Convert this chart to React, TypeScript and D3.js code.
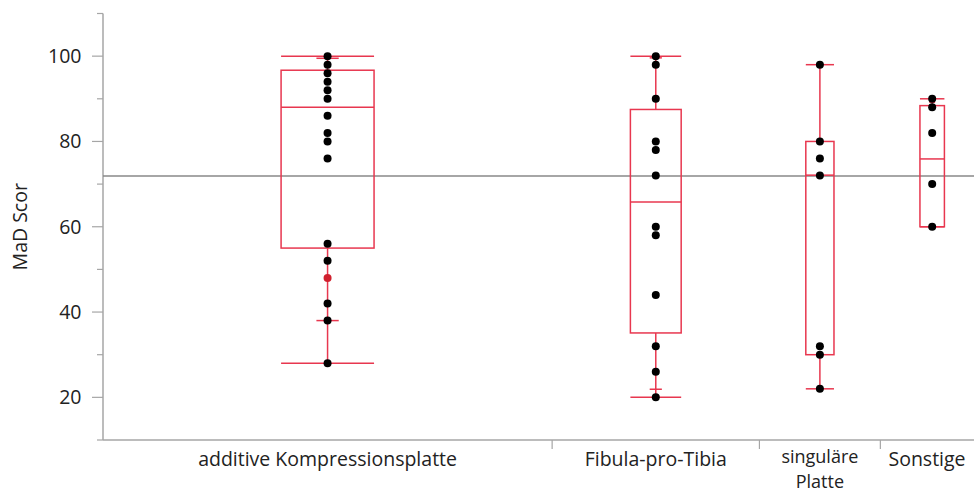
import React from "react";
import * as d3 from "d3";

// ---- data ----
const categories = ["additive Kompressionsplatte", "Fibula-pro-Tibia", "singuläre Platte", "Sonstige"];
const categoryLines = [["additive Kompressionsplatte"], ["Fibula-pro-Tibia"], ["singuläre", "Platte"], ["Sonstige"]];
const groupCounts = [26, 12, 7, 6];
const points1 = [100, 98, 96, 94, 92, 90, 86, 82, 80, 76, 56, 52, 48, 42, 38, 28];
const points2 = [100, 98, 90, 80, 78, 72, 60, 58, 44, 32, 26, 20];
const points3 = [98, 80, 76, 72, 32, 30, 22];
const points4 = [90, 88, 82, 70, 60];
const groupPoints = [points1, points2, points3, points4];
const highlighted = [{ group: 0, value: 48 }];
const q1 = [55, 35.1, 30, 60];
const median = [88, 65.8, 72.1, 75.9];
const q3 = [96.7, 87.5, 80, 88.4];
const whiskerLo = [28, 20, 22, 60];
const whiskerHi = [100, 100, 98, 90];
const pctLo = [38, 21.9, 22, 60];
const pctHi = [99.5, 99.6, 98, 89.2];
const grandMean = 71.9;
const yTicks = [20, 40, 60, 80, 100];
const yMinorTicks = [10, 30, 50, 70, 90, 110];

// ---- layout / style ----
const W = 974;
const H = 494;
const boxFrac = [0.207, 0.245, 0.233, 0.236];
const RED = "#e8374f";
const AXIS = "#a6a6a6";
const FONT = "'Open Sans', 'Noto Sans', sans-serif";
const FS = 19.5;

export default function App() {
  const y = d3.scaleLinear().domain([10, 110]).range([440, 13.5]);
  const total = d3.sum(groupCounts);
  const x = d3.scaleLinear().domain([0, total]).range([103, 984]);
  const cum = [0];
  groupCounts.forEach((c, i) => cum.push(cum[i] + c));
  const bands = groupCounts.map((c, i) => {
    const x0 = x(cum[i]);
    const x1 = x(cum[i + 1]);
    return { x0, x1, cx: (x0 + x1) / 2, bw: (x1 - x0) * boxFrac[i] };
  });

  return (
    <svg width={W} height={H} style={{ position: "absolute", left: 0, top: 0, background: "#fff" }}>
      {/* y axis */}
      <line x1={103} x2={103} y1={y(110)} y2={440} stroke={AXIS} strokeWidth={1.5} />
      {yTicks.map((t) => (
        <g key={"t" + t}>
          <line x1={92} x2={103} y1={y(t)} y2={y(t)} stroke={AXIS} strokeWidth={1.2} />
          <text x={81.5} y={y(t)} dy="0.36em" textAnchor="end" fontSize={FS} fontFamily={FONT} fill="#222">
            {t}
          </text>
        </g>
      ))}
      {yMinorTicks.map((t) => (
        <line key={"m" + t} x1={97} x2={103} y1={y(t)} y2={y(t)} stroke={AXIS} strokeWidth={1.2} />
      ))}
      <text
        transform={`translate(20,${(y(110) + 440) / 2}) rotate(-90)`}
        textAnchor="middle"
        dy="0.36em"
        fontSize={FS}
        fontFamily={FONT}
        fill="#222"
      >
        MaD Scor
      </text>

      {/* x axis */}
      <line x1={103} x2={W} y1={440} y2={440} stroke={AXIS} strokeWidth={1.5} />
      {bands.slice(0, -1).map((b, i) => (
        <line key={"s" + i} x1={b.x1} x2={b.x1} y1={440} y2={449} stroke={AXIS} strokeWidth={1.2} />
      ))}
      {bands.map((b, i) => {
        const multi = categoryLines[i].length > 1;
        return categoryLines[i].map((ln, j) => (
          <text
            key={"c" + i + j}
            x={Math.min(b.cx, 927)}
            y={multi ? 463 + j * 25 : 466}
            textAnchor="middle"
            fontSize={multi ? 18 : FS}
            fontFamily={FONT}
            fill="#222"
          >
            {ln}
          </text>
        ));
      })}

      {/* grand mean line */}
      <line x1={103} x2={W} y1={y(grandMean)} y2={y(grandMean)} stroke="#888" strokeWidth={1.7} />

      {/* boxes */}
      {bands.map((b, i) => {
        const half = b.bw / 2;
        const small = b.bw * 0.12;
        return (
          <g key={"b" + i} stroke={RED} strokeWidth={1.5} fill="none">
            <line x1={b.cx} x2={b.cx} y1={y(q3[i])} y2={y(whiskerHi[i])} />
            <line x1={b.cx} x2={b.cx} y1={y(q1[i])} y2={y(whiskerLo[i])} />
            <rect x={b.cx - half} y={y(q3[i])} width={b.bw} height={y(q1[i]) - y(q3[i])} />
            <line x1={b.cx - half} x2={b.cx + half} y1={y(median[i])} y2={y(median[i])} />
            <line x1={b.cx - half} x2={b.cx + half} y1={y(whiskerHi[i])} y2={y(whiskerHi[i])} />
            <line x1={b.cx - half} x2={b.cx + half} y1={y(whiskerLo[i])} y2={y(whiskerLo[i])} />
            <line x1={b.cx - small} x2={b.cx + small} y1={y(pctHi[i])} y2={y(pctHi[i])} />
            <line x1={b.cx - small} x2={b.cx + small} y1={y(pctLo[i])} y2={y(pctLo[i])} />
          </g>
        );
      })}

      {/* points */}
      {bands.map((b, i) =>
        groupPoints[i].map((v, k) => {
          const hl = highlighted.some((h) => h.group === i && h.value === v);
          return <circle key={"p" + i + "-" + k} cx={b.cx} cy={y(v)} r={4} fill={hl ? "#d0202e" : "#000"} />;
        })
      )}
    </svg>
  );
}
